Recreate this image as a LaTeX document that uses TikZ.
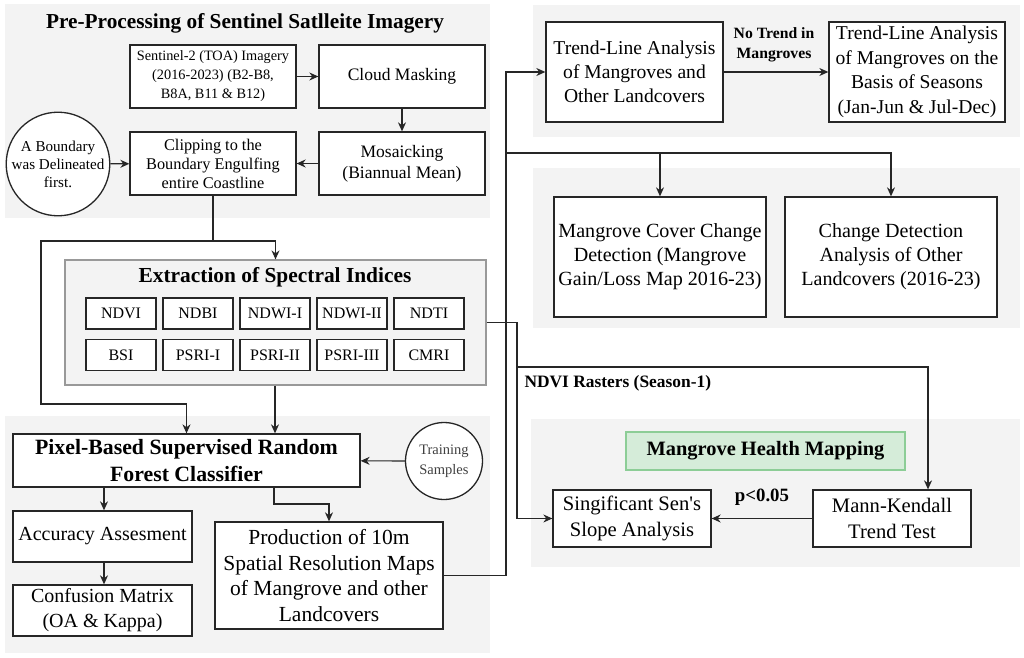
\documentclass[tikz,border=0pt]{standalone}
\usepackage{fontspec}
\setmainfont{Liberation Serif}
\usetikzlibrary{arrows.meta}
\definecolor{panelgray}{RGB}{243,243,243}
\definecolor{healthfill}{RGB}{213,236,217}
\definecolor{healthline}{RGB}{140,205,150}
\begin{document}
\begin{tikzpicture}[x=1bp, y=-1bp,
  fs/.style 2 args={font=\fontsize{#1bp}{#2bp}\selectfont},
  box/.style 2 args={draw=black!85, line width=1.3bp, fill=white, align=center,
    inner sep=0pt, minimum width=#1bp, minimum height=#2bp},
  circ/.style={circle, draw=black!85, line width=1.3bp, fill=white, align=center,
    inner sep=0pt, minimum size=#1bp},
  panel/.style={fill=panelgray, draw=none},
  link/.style={line width=1.2bp, draw=black!85},
  arr/.style={link, -{Stealth[length=9bp,width=8bp]}}]

\useasboundingbox (0,0) rectangle (1024,658);
\fill[white] (0,0) rectangle (1024,658);

% background panels
\fill[panel] (5,4) rectangle (490,218);
\fill[panel] (533,5) rectangle (1020,137);
\fill[panel] (533,168) rectangle (1020,328);
\fill[panel] (5,416) rectangle (490,653);
\fill[panel] (531,419) rectangle (1020,567);

% pre-processing
\node[font=\bfseries\fontsize{21.3bp}{25bp}\selectfont] (pretitle) at (245,23) {Pre-Processing of Sentinel Satlleite Imagery};
\node[box={166}{63}, fs={14.3}{19}] (sent) at (213,76.5) {Sentinel-2 (TOA) Imagery\\(2016-2023) (B2-B8,\\B8A, B11 \& B12)};
\node[box={166}{63}, fs={17.5}{21}] (cloud) at (402,76.5) {Cloud Masking};
\node[box={166}{63}, fs={17.5}{21}] (mosaic) at (402,163.5) {Mosaicking\\(Biannual Mean)};
\node[box={166}{63}, fs={16.3}{19}] (clip) at (213,163.5) {Clipping to the\\Boundary Engulfing\\entire Coastline};
\node[circ=100, fs={15.1}{18}] (bound) at (58,164) {A Boundary\\was Delineated\\first.};

\draw[arr] (sent) -- (cloud);
\draw[arr] (cloud) -- (mosaic);
\draw[arr] (mosaic) -- (clip);
\draw[arr] (bound) -- (clip);

% spectral indices
\node[draw=black!40, line width=1.2bp, fill=panelgray, minimum width=421bp, minimum height=125bp] (extract) at (275.5,322.5) {};
\node[font=\bfseries\fontsize{21.4bp}{25bp}\selectfont] (extitle) at (275,277) {Extraction of Spectral Indices};
\node[box={70}{31}, fs={16}{19}] (ndvi) at (121,313.5) {NDVI};
\node[box={70}{31}, fs={16}{19}] (ndbi) at (198,313.5) {NDBI};
\node[box={70}{31}, fs={16}{19}] (ndwia) at (275,313.5) {NDWI-I};
\node[box={70}{31}, fs={16}{19}] (ndwib) at (352,313.5) {NDWI-II};
\node[box={70}{31}, fs={16}{19}] (ndti) at (429,313.5) {NDTI};
\node[box={70}{31}, fs={16}{19}] (bsi) at (121,355) {BSI};
\node[box={70}{31}, fs={16}{19}] (psria) at (198,355) {PSRI-I};
\node[box={70}{31}, fs={16}{19}] (psrib) at (275,355) {PSRI-II};
\node[box={70}{31}, fs={16}{19}] (psric) at (352,355) {PSRI-III};
\node[box={70}{31}, fs={16}{19}] (cmri) at (429,355) {CMRI};

% classification
\node[box={347}{53}, font=\bfseries\fontsize{21.8bp}{27bp}\selectfont] (rf) at (186.5,460.5) {Pixel-Based Supervised Random\\Forest Classifier};
\node[circ=77, fs={14.5}{20}, text=black!75] (train) at (444,461) {Training\\Samples};
\node[box={179}{51}, fs={20}{25}] (acc) at (102.5,536.5) {Accuracy Assesment};
\node[box={179}{51}, fs={20}{25}] (conf) at (102.5,610.5) {Confusion Matrix\\(OA \& Kappa)};
\node[box={228}{107}, fs={21.5}{25.5}] (prod) at (329,575.5) {Production of 10m\\Spatial Resolution Maps\\of Mangrove and other\\Landcovers};

\coordinate (cliplow) at (213,241);
\coordinate (leftbend) at (41,241);
\coordinate (leftlow) at (41,404);
\coordinate (rfa) at (104,487);
\coordinate (rfb) at (274,504);
\draw[link] (clip.south) -- (cliplow);
\draw[arr] (cliplow) -| (extract.north);
\draw[arr] (cliplow) -- (leftbend) -- (leftlow) -| (rf.north);
\draw[arr] (extract.south -| 275,0) -- (rf.north -| 275,0);
\draw[arr] (train) -- (rf);
\draw[arr] (rfa) -- (acc.north -| rfa);
\draw[arr] (acc.south -| rfa) -- (conf.north -| rfa);
\draw[arr] (rf.south -| rfb) -- (rfb) -| (prod.north);

% trend and change detection
\node[box={177}{100}, fs={19.6}{24}] (trenda) at (634.5,72) {Trend-Line Analysis\\of Mangroves and\\Other Landcovers};
\node[box={176}{100}, fs={19.6}{24.5}] (trendb) at (917,72) {Trend-Line Analysis\\of Mangroves on the\\Basis of Seasons\\(Jan-Jun \& Jul-Dec)};
\node[font=\bfseries\fontsize{15.7bp}{20bp}\selectfont, align=center] (notrend) at (774,45) {No Trend in\\Mangroves};
\node[box={212}{120}, fs={20.1}{24}] (changea) at (660,257) {Mangrove Cover Change\\Detection (Mangrove\\Gain/Loss Map 2016-23)};
\node[box={212}{120}, fs={20.1}{24}] (changeb) at (891,257) {Change Detection\\Analysis of Other\\Landcovers (2016-23)};

\coordinate (prodout) at (506,575.5);
\coordinate (branch) at (506,153);
\draw[arr] (prod.east) -- (prodout) |- (trenda.west);
\draw[arr] (trenda) -- (trendb);
\draw[arr] (branch) -| (changea.north);
\draw[arr] (branch) -| (changeb.north);

% mangrove health
\node[draw=healthline, line width=1.2bp, fill=healthfill, minimum width=279bp, minimum height=38bp,
  font=\bfseries\fontsize{20.4bp}{24bp}\selectfont] (health) at (765.5,451) {Mangrove Health Mapping};
\node[box={158}{57}, fs={20.6}{26}] (sens) at (632,518.5) {Singificant Sen\textquotesingle s\\Slope Analysis};
\node[box={158}{57}, fs={20.6}{26}] (mk) at (892,518.5) {Mann-Kendall\\Trend Test};
\node[font=\bfseries\fontsize{17.4bp}{21bp}\selectfont, anchor=west] (ndvilabel) at (521,383) {NDVI Rasters (Season-1)};
\node[font=\bfseries\fontsize{18.8bp}{22bp}\selectfont] (pval) at (762,497) {p<0.05};

\coordinate (exout) at (517,322.5);
\coordinate (seasonturn) at (517,367);
\coordinate (mkturn) at (928,367);
\draw[arr] (extract.east) -- (exout) |- (sens.west);
\draw[arr] (seasonturn) -- (mkturn) -- (mkturn |- mk.north);
\draw[arr] (mk) -- (sens);

\end{tikzpicture}
\end{document}
